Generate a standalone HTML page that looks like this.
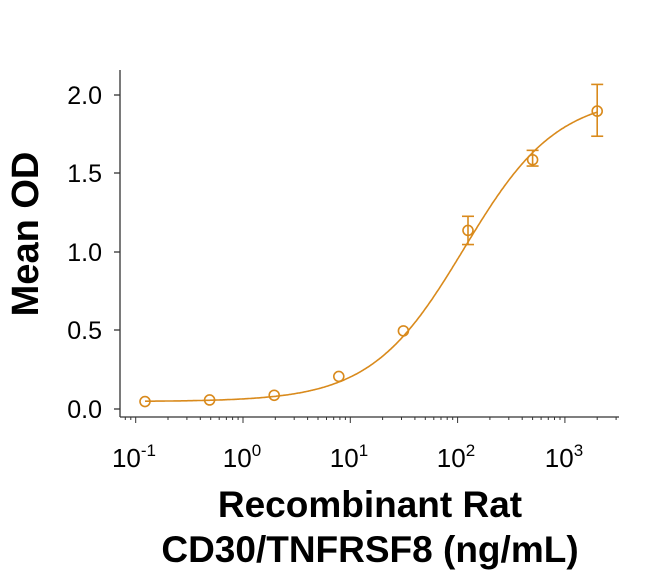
<!DOCTYPE html>
<html><head><meta charset="utf-8"><style>
html,body{margin:0;padding:0;background:#fff;width:650px;height:573px;overflow:hidden}
text{font-family:"Liberation Sans",Arial,sans-serif}
</style></head><body>
<svg id="s" width="650" height="573" xmlns="http://www.w3.org/2000/svg">
<g stroke="#333" stroke-width="1.3" fill="none">
<line x1="120" y1="70" x2="120" y2="417"/>
<line x1="120" y1="417" x2="619" y2="417"/>
<line x1="114" y1="95" x2="120" y2="95"/>
<line x1="114" y1="173" x2="120" y2="173"/>
<line x1="114" y1="252" x2="120" y2="252"/>
<line x1="114" y1="330" x2="120" y2="330"/>
<line x1="114" y1="409" x2="120" y2="409"/>
</g>
<g id="ticks" stroke="#333" stroke-width="1"></g>
<g font-size="25" fill="#000" text-anchor="end">
<text x="102" y="104">2.0</text>
<text x="102" y="182">1.5</text>
<text x="102" y="261">1.0</text>
<text x="102" y="339">0.5</text>
<text x="102" y="418">0.0</text>
</g>
<g font-size="26" fill="#000" text-anchor="middle">
<text x="134" y="467">10<tspan dy="-11" font-size="17">-1</tspan></text>
<text x="242" y="467">10<tspan dy="-11" font-size="17">0</tspan></text>
<text x="349" y="467">10<tspan dy="-11" font-size="17">1</tspan></text>
<text x="456" y="467">10<tspan dy="-11" font-size="17">2</tspan></text>
<text x="564" y="467">10<tspan dy="-11" font-size="17">3</tspan></text>
</g>
<text x="370" y="517" font-size="37" font-weight="bold" text-anchor="middle">Recombinant Rat</text>
<text x="370" y="562" font-size="37" font-weight="bold" text-anchor="middle">CD30/TNFRSF8 (ng/mL)</text>
<text transform="translate(38,234) rotate(-90)" font-size="38" font-weight="bold" text-anchor="middle">Mean OD</text>
<g id="data" stroke="#d98a1c" stroke-width="1.6" fill="none"></g>
</svg>
<script>
(function(){
var X=function(v){return 243+107.3*Math.log10(v)};
var Y=function(v){return 409.4-157*v};
var NS="http://www.w3.org/2000/svg";
function el(p,tag,a){var e=document.createElementNS(NS,tag);for(var k in a)e.setAttribute(k,a[k]);p.appendChild(e);return e;}
var t=document.getElementById('ticks');
for(var d=-2;d<=3;d++)for(var k=1;k<10;k++){var v=k*Math.pow(10,d),x=X(v);if(x<121||x>619)continue;el(t,'line',{x1:x,y1:417,x2:x,y2:(k==1?423:420)});}
var xs=[],ys=[0.05,0.06,0.09,0.21,0.50,1.14,1.59,1.90];
var lo=[0,0,0,0,0,1.05,1.55,1.74],hi=[0,0,0,0,0,1.23,1.65,2.07];
for(var i=0;i<8;i++)xs.push(2000/Math.pow(4,7-i));
var best=[0.05,2.0,115,1.0];
function f(p,x){return p[0]+(p[1]-p[0])/(1+Math.pow(p[2]/x,p[3]));}
var g=document.getElementById('data'),d2='';
for(var lx=Math.log10(xs[0]);lx<=Math.log10(2000)+1e-9;lx+=0.01){var x=Math.pow(10,lx);d2+=(d2?'L':'M')+X(x).toFixed(1)+','+Y(f(best,x)).toFixed(1);}
el(g,'path',{d:d2});
for(var i=0;i<8;i++){var cx=X(xs[i]),cy=Y(ys[i]);el(g,'circle',{cx:cx,cy:cy,r:5});
if(hi[i]>0){var a=Y(hi[i]),b=Y(lo[i]);el(g,'line',{x1:cx,y1:a,x2:cx,y2:b});el(g,'line',{x1:cx-6,y1:a,x2:cx+6,y2:a});el(g,'line',{x1:cx-6,y1:b,x2:cx+6,y2:b});}}
})();
</script>
</body></html>
